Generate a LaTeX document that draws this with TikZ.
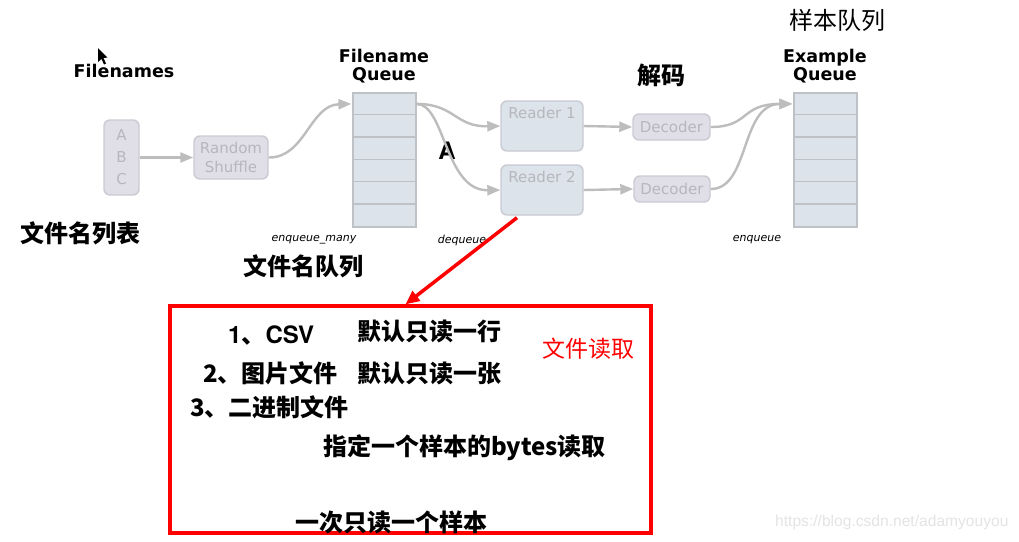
\documentclass[tikz,border=0pt]{standalone}
\usepackage{fontspec}
\setmainfont{DejaVu Sans}
\newfontfamily\cjk{Noto Sans CJK SC}
\newfontfamily\arial{Liberation Sans}
\newfontfamily\herosbold{texgyreheros-bold.otf}
\usetikzlibrary{arrows.meta,calc}
\definecolor{boxfill}{HTML}{E0DFE8}
\definecolor{boxline}{HTML}{CACAD3}
\definecolor{qfill}{HTML}{DDE3EA}
\definecolor{qline}{HTML}{BEC2C6}
\definecolor{graytext}{HTML}{B6B6BE}
\definecolor{flow}{HTML}{BDBDBD}
\definecolor{wm}{HTML}{E4E4E4}
\tikzset{
  procbox/.style={draw=boxline, fill=boxfill, line width=1.4pt, rounded corners=6pt, inner sep=0pt,
    text=graytext, font=\fontsize{15}{19}\selectfont, align=center},
  readbox/.style={draw=boxline, fill=qfill, line width=1.4pt, rounded corners=6pt, inner sep=0pt,
    minimum width=82pt, minimum height=50pt},
  queuebox/.style={draw=qline, fill=qfill, line width=1.2pt, minimum width=63pt, minimum height=134pt, inner sep=0pt},
  qsep/.style={draw=qline, line width=1.2pt},
  flowarrow/.style={draw=flow, line width=2.4pt, -{Triangle[length=13pt,width=10pt]}},
  headlbl/.style={font=\fontsize{17.5}{18}\selectfont\bfseries, align=center, inner sep=0pt},
  opname/.style={font=\fontsize{11}{12}\selectfont\itshape, inner sep=0pt},
  cjklbl/.style={font=\fontsize{24}{28}\selectfont\cjk\bfseries, inner sep=0pt},
  boxtxt/.style={font=\fontsize{24}{28}\selectfont\cjk\bfseries, inner sep=0pt, anchor=west},
}
\begin{document}
\begin{tikzpicture}[x=1pt,y=-1pt]
\useasboundingbox[fill=white] (0,0) rectangle (1019,541);

% cursor
\fill[black] (98,48) -- (98,62) -- (101.5,59) -- (104,64.5) -- (106,63.5) -- (103.5,58) -- (107.5,57.5) -- cycle;

% headings
\node[headlbl] (hfn) at (124,71) {Filenames};
\node[headlbl] (hfq) at (384,66) {Filename\\Queue};
\node[headlbl] (heq) at (825,66) {Example\\Queue};
\node[cjklbl] (hdec) at (661,75) {解码};
\node[cjklbl, font=\fontsize{24}{28}\selectfont\cjk] (hsq) at (837,20) {样本队列};
\node[cjklbl] (hfl) at (80,233) {文件名列表};
\node[cjklbl] (hfql) at (303,266) {文件名队列};
\node[font=\herosbold\fontsize{24}{26}\selectfont, inner sep=0pt] (hA) at (447,151) {A};

% boxes
\node[procbox, minimum width=35pt, minimum height=75pt, font=\fontsize{15}{22}\selectfont] (abc) at (121.5,157.5) {A\\B\\C};
\node[procbox, minimum width=74pt, minimum height=43pt] (rs) at (231,157.5) {Random\\Shuffle};

% queues
\node[queuebox] (fq) at (384.5,160) {};
\node[queuebox] (eq) at (825.5,160) {};
\foreach \i in {1,...,5} {
  \draw[qsep] ($(fq.north west)+(0,22.33*\i)$) -- ($(fq.north east)+(0,22.33*\i)$);
  \draw[qsep] ($(eq.north west)+(0,22.33*\i)$) -- ($(eq.north east)+(0,22.33*\i)$);
}
\coordinate (fqin) at ($(fq.north west)+(-1,11.5)$);
\coordinate (fqout) at ($(fq.north east)+(0,11.5)$);
\coordinate (eqin) at ($(eq.north west)+(-1,11.5)$);

\node[readbox, label={[text=graytext, font=\fontsize{15}{18}\selectfont, anchor=north, yshift=-3pt]north:Reader 1}] (r1) at (542,126) {};
\node[readbox, label={[text=graytext, font=\fontsize{15}{18}\selectfont, anchor=north, yshift=-3pt]north:Reader 2}] (r2) at (542,190) {};

\node[procbox, minimum width=77pt, minimum height=26pt] (d1) at (671.5,127) {Decoder};
\node[procbox, minimum width=76pt, minimum height=26pt] (d2) at (672,189) {Decoder};

% flow arrows
\draw[flowarrow] (abc.east) -- (rs.west);
\draw[flowarrow] (rs.east) .. controls (305,158) and (310,105) .. (fqin);
\draw[flowarrow] (fqout) .. controls (455,104) and (455,127) .. (r1.west);
\draw[flowarrow] (fqout) .. controls (445,104) and (445,191) .. (r2.west);
\draw[flowarrow] (r1.east) -- (d1.west);
\draw[flowarrow] (r2.east) -- (d2.west);
\draw[flowarrow] (d1.east) .. controls (750,127) and (740,104) .. (eqin);
\draw[flowarrow] (d2.east) .. controls (750,189) and (740,104) .. (eqin);

% op names
\node[opname] (op1) at (314,240) {enqueue\_many};
\node[opname] (op2) at (462,240) {dequeue};
\node[opname] (op3) at (757,240) {enqueue};

% red box
\node[draw=red, line width=3.2pt, minimum width=481pt, minimum height=227pt, inner sep=0pt] (rbox) at (410.5,419.5) {};
\draw[red, line width=3.5pt, -{Triangle[length=14pt,width=12pt]}] ($(r2.south)+(-25,2)$) -- ($(rbox.north west)+(237,0)$);

\node[boxtxt, font=\herosbold\fontsize{24}{28}\selectfont] (t1) at (228,336) {1{\cjk\bfseries 、}CSV};
\node[boxtxt] (t1b) at (357,331) {默认只读一行};
\node[boxtxt, font=\fontsize{23}{28}\selectfont\cjk, text=red] (tr) at (542,349) {文件读取};
\node[boxtxt] (t2) at (203,373) {2、图片文件};
\node[boxtxt] (t2b) at (357,373) {默认只读一张};
\node[boxtxt] (t3) at (190,407) {3、二进制文件};
\node[boxtxt] (t4) at (323,448) {指定一个样本的bytes读取};
\node[boxtxt] (t5) at (295,522) {一次只读一个样本};

% watermark
\node[font=\fontsize{15.6}{16}\selectfont\arial, text=wm, anchor=west, inner sep=0pt] (wmk) at (775,522) {https://blog.csdn.net/adamyouyou};
\end{tikzpicture}
\end{document}
